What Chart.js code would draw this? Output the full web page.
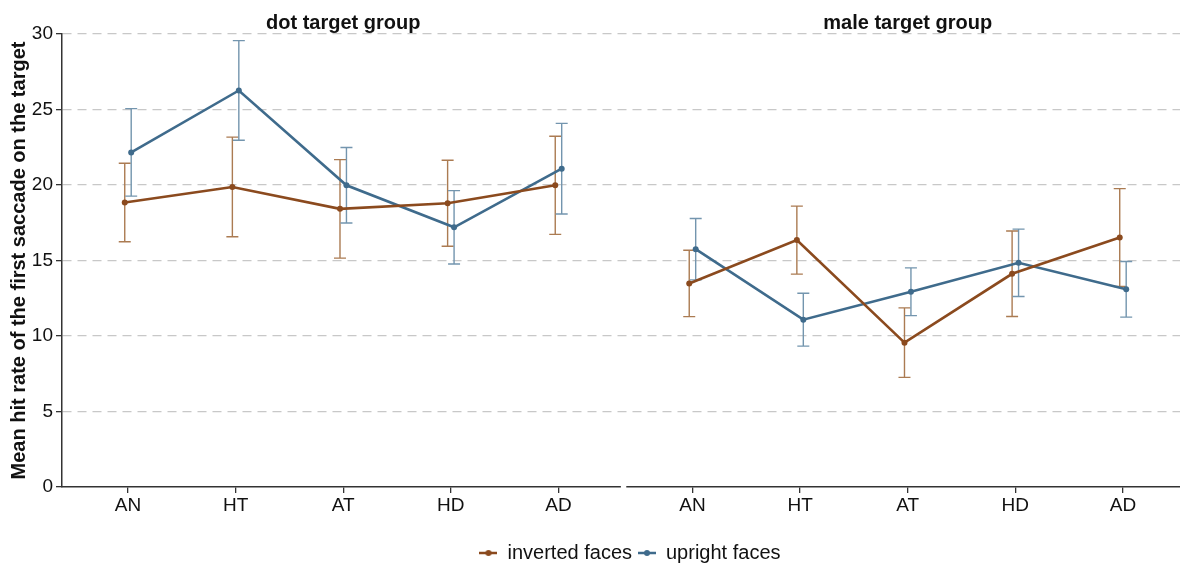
<!DOCTYPE html>
<html>
<head>
<meta charset="utf-8">
<script src="https://cdn.jsdelivr.net/npm/chart.js@4"></script>
<style>
html, body { margin: 0; padding: 0; background: #fff; }
#contenedor { position: relative; width: 1180px; height: 563px; }
</style>
</head>
<body>
<div id="contenedor"><canvas id="grafica"></canvas></div>
<script>
// datos
var categorias = ['AN', 'HT', 'AT', 'HD', 'AD'];
var paneles = ['dot target group', 'male target group'];
var series = ['inverted faces', 'upright faces'];

var dotInverted = [18.84, 19.87, 18.42, 18.79, 19.98];
var dotInvertedErr = [2.6, 3.3, 3.26, 2.85, 3.25];
var dotUpright = [22.16, 26.26, 19.98, 17.2, 21.08];
var dotUprightErr = [2.9, 3.3, 2.5, 2.43, 3.0];

var maleInverted = [13.48, 16.35, 9.56, 14.12, 16.52];
var maleInvertedErr = [2.2, 2.25, 2.3, 2.83, 3.24];
var maleUpright = [15.75, 11.08, 12.93, 14.85, 13.09];
var maleUprightErr = [2.03, 1.75, 1.58, 2.23, 1.84];

var yTicks = [0, 5, 10, 15, 20, 25, 30];

var colorInv = '#8b4a1e';
var colorInvErr = '#ab7b52';
var colorUp = '#3f6b8c';
var colorUpErr = '#7395ae';

var desplaz = 5.245;   // inicio del segundo panel, en unidades de categoria
var dodge = 0.03;
var fuente = "'Liberation Sans', Arial, sans-serif";

function puntos(valores, errores, panel, lado){
    return valores.map(function(v, i){
        return {x: panel * desplaz + i + lado * dodge, y: v, err: errores[i]};
    });
}

var posiciones = [];
for (var p = 0; p < paneles.length; p++){
    for (var i = 0; i < categorias.length; i++){
        posiciones.push(p * desplaz + i);
    }
}

function marcador(color){
    var c = document.createElement('canvas');
    c.width = 18; c.height = 10;
    var cx = c.getContext('2d');
    cx.strokeStyle = color; cx.lineWidth = 2.5;
    cx.beginPath(); cx.moveTo(0, 5); cx.lineTo(18, 5); cx.stroke();
    cx.fillStyle = color;
    cx.beginPath(); cx.arc(9, 5, 3, 0, Math.PI * 2); cx.fill();
    return c;
}
var marcadores = [marcador(colorInv), marcador(colorUp)];

function serie(label, valores, errores, panel, lado, color, colorErr){
    return {
        label: label,
        data: puntos(valores, errores, panel, lado),
        borderColor: color,
        backgroundColor: color,
        errColor: colorErr,
        borderWidth: 2.6,
        pointRadius: 3,
        pointBorderWidth: 0,
        tension: 0
    };
}

var barrasError = {
    id: 'barrasError',
    beforeDatasetsDraw: function(chart){
        var ctx = chart.ctx;
        var xs = chart.scales.x, ys = chart.scales.y;
        chart.data.datasets.forEach(function(ds){
            ctx.save();
            ctx.strokeStyle = ds.errColor;
            ctx.lineWidth = 1.4;
            ds.data.forEach(function(d){
                var px = xs.getPixelForValue(d.x);
                var t = ys.getPixelForValue(d.y + d.err);
                var b = ys.getPixelForValue(d.y - d.err);
                ctx.beginPath();
                ctx.moveTo(px, t); ctx.lineTo(px, b);
                ctx.moveTo(px - 6, t); ctx.lineTo(px + 6, t);
                ctx.moveTo(px - 6, b); ctx.lineTo(px + 6, b);
                ctx.stroke();
            });
            ctx.restore();
        });
    }
};

// leyenda centrada como en la figura original
var moverLeyenda = {
    id: 'moverLeyenda',
    afterLayout: function(chart){
        var lg = chart.legend;
        if (!lg) return;
        lg.left += 40; lg.right += 40;
        lg.top += 10; lg.bottom += 10;
    }
};

var titulos = {
    id: 'titulos',
    afterDraw: function(chart){
        var ctx = chart.ctx;
        var xs = chart.scales.x, ys = chart.scales.y;
        ctx.save();
        ctx.font = 'bold 20px ' + fuente;
        ctx.fillStyle = '#111';
        ctx.textAlign = 'center';
        ctx.textBaseline = 'alphabetic';
        paneles.forEach(function(t, k){
            ctx.fillText(t, xs.getPixelForValue(k * desplaz + 2), 29);
        });
        // corte del eje x entre paneles
        var g1 = xs.getPixelForValue(4.58), g2 = xs.getPixelForValue(4.63);
        ctx.fillStyle = '#fff';
        ctx.fillRect(g1, ys.bottom - 3, g2 - g1, 6);
        ctx.restore();
    }
};

var ctx = document.getElementById('grafica').getContext('2d');

var grafica = new Chart(ctx, {
    type: 'line',
    data: {
        datasets: [
            serie(series[0], dotInverted, dotInvertedErr, 0, -1, colorInv, colorInvErr),
            serie(series[1], dotUpright, dotUprightErr, 0, 1, colorUp, colorUpErr),
            serie(series[0], maleInverted, maleInvertedErr, 1, -1, colorInv, colorInvErr),
            serie(series[1], maleUpright, maleUprightErr, 1, 1, colorUp, colorUpErr)
        ]
    },
    options: {
        responsive: true,
        maintainAspectRatio: false,
        animation: false,
        layout: { autoPadding: false, padding: { top: 34, right: 0, left: 0, bottom: 0 } },
        plugins: {
            tooltip: { enabled: false },
            legend: {
                position: 'bottom',
                labels: {
                    font: { family: fuente, size: 20 },
                    color: '#111',
                    usePointStyle: true,
                    pointStyleWidth: 18,
                    boxHeight: 10,
                    padding: 6,
                    filter: function(item){ return item.datasetIndex < 2; },
                    generateLabels: function(chart){
                        var items = Chart.defaults.plugins.legend.labels.generateLabels(chart);
                        items.forEach(function(it){ it.pointStyle = marcadores[it.datasetIndex % 2]; });
                        return items;
                    }
                }
            }
        },
        scales: {
            x: {
                type: 'linear',
                min: -0.613,
                max: 9.775,
                afterBuildTicks: function(scale){
                    scale.ticks = posiciones.map(function(v){ return {value: v}; });
                },
                afterFit: function(scale){ scale.height = 40; },
                ticks: {
                    autoSkip: false,
                    maxRotation: 0,
                    padding: 1,
                    color: '#111',
                    font: { family: fuente, size: 19 },
                    callback: function(value, index){ return categorias[index % categorias.length]; }
                },
                grid: { drawOnChartArea: false, drawTicks: true, tickLength: 6, color: '#333', lineWidth: 1.3 },
                border: { color: '#333', width: 1.5 }
            },
            y: {
                min: 0,
                max: 30,
                afterBuildTicks: function(scale){
                    scale.ticks = yTicks.map(function(v){ return {value: v}; });
                },
                afterFit: function(scale){ scale.width = 62; },
                ticks: {
                    padding: 3,
                    color: '#111',
                    font: { family: fuente, size: 19 }
                },
                grid: {
                    color: function(c){ return c.tick && c.tick.value === 0 ? 'rgba(0,0,0,0)' : '#c8c8c8'; },
                    lineWidth: 1.3,
                    tickColor: '#333',
                    tickLength: 6
                },
                border: { color: '#333', width: 1.5, dash: [9, 6] },
                title: {
                    display: true,
                    text: 'Mean hit rate of the first saccade on the target',
                    color: '#111',
                    font: { family: fuente, size: 20, weight: 'bold' },
                    padding: { top: 7, bottom: 0 }
                }
            }
        }
    },
    plugins: [barrasError, moverLeyenda, titulos]
});
</script>
</body>
</html>
